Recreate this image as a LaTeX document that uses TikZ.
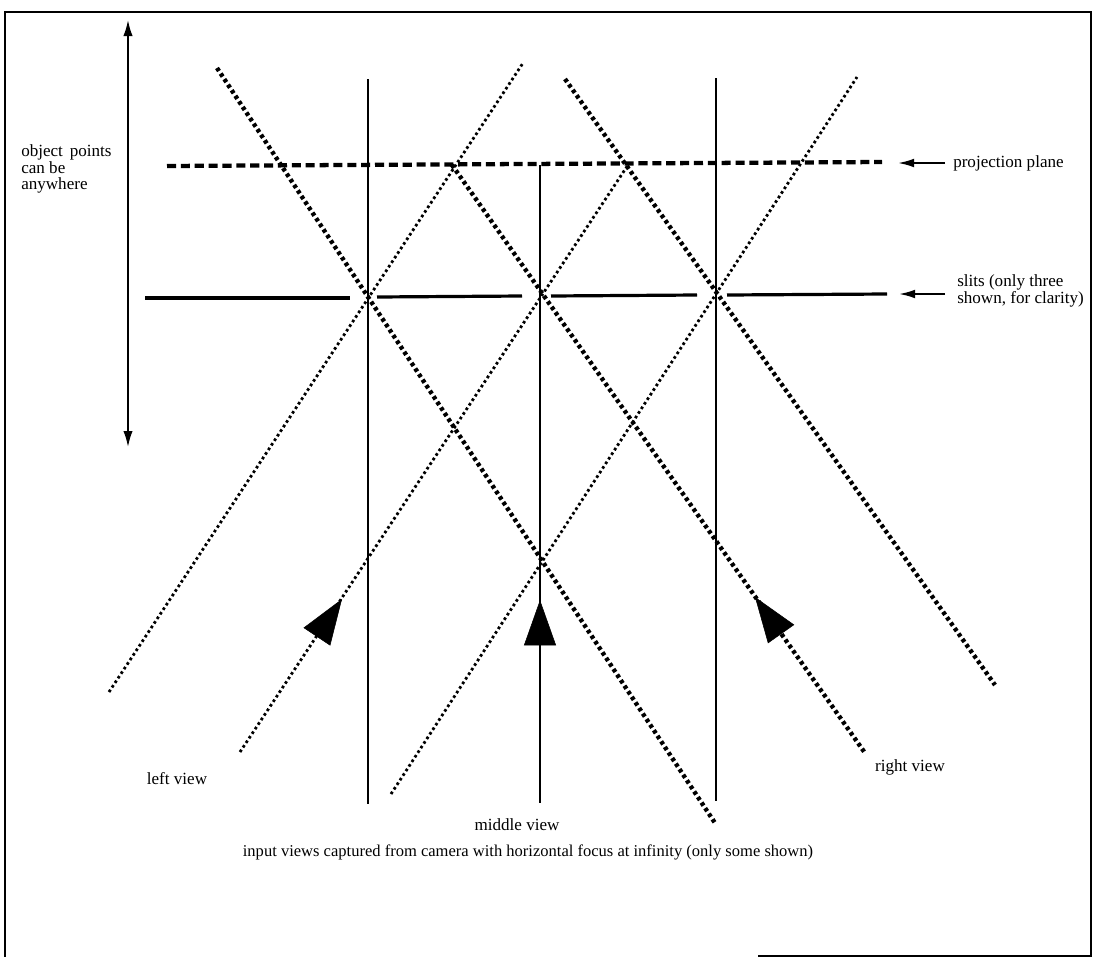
\documentclass[tikz,border=0pt]{standalone}
\usepackage{fontspec}
\setmainfont{Liberation Serif}
\usetikzlibrary{arrows.meta,calc}
\begin{document}
\begin{tikzpicture}[x=0.75pt,y=-0.75pt,
  frame/.style={line width=1.2pt},
  vline/.style={line width=1.6pt},
  midline/.style={line width=2.1pt},
  thickdot/.style={line width=3.3pt, dash pattern=on 2.7pt off 2.3pt},
  thindot/.style={line width=2.1pt, dash pattern=on 2pt off 2.1pt},
  ppdash/.style={line width=3.2pt, dash pattern=on 6.8pt off 3.6pt},
  slit/.style={line width=2.4pt},
  bigtip/.style={line width=0.4pt, -{Triangle[length=34pt,width=24pt]}},
  labarrow/.style={line width=1.4pt, -{Latex[length=12pt,width=6.5pt]}},
  dblarrow/.style={line width=1.3pt, {Latex[length=12pt,width=7pt]}-{Latex[length=12pt,width=7pt]}},
  lab/.style={font=\fontsize{12.8}{12.6}\selectfont, inner sep=0pt, align=left},
  longlab/.style={font=\fontsize{12.4}{12.4}\selectfont, inner sep=0pt}
]
\useasboundingbox (0,0) rectangle (1093,957);
% frame
\draw[frame] (5,957) -- (5,12) -- (1091,12) -- (1091,956) -- (758,956);

% coordinates
\coordinate (arrTop) at (128,20);
\coordinate (arrBot) at (128,447);
\coordinate (ppL) at (167,166);
\coordinate (ppR) at (882,162);
\coordinate (s1a) at (145,298); \coordinate (s1b) at (350,298);
\coordinate (s2a) at (377,297); \coordinate (s2b) at (522,296);
\coordinate (s3a) at (551,296); \coordinate (s3b) at (697,295);
\coordinate (s4a) at (727,295); \coordinate (s4b) at (887,294);
\coordinate (v1t) at (368,79);  \coordinate (v1b) at (368,804);
\coordinate (v2t) at (540,165); \coordinate (v2b) at (540,803);
\coordinate (v3t) at (716,78);  \coordinate (v3b) at (716,801);
\coordinate (d1t) at (217,68);  \coordinate (d1b) at (715,823);
\coordinate (d2t) at (452,165); \coordinate (d2b) at (865,753);
\coordinate (d3t) at (565,79);  \coordinate (d3b) at (995,685);
\coordinate (t1b) at (109,692); \coordinate (t1t) at (523,63);
\coordinate (t2b) at (240,752); \coordinate (t2t) at (628,165);
\coordinate (t3b) at (391,794); \coordinate (t3t) at (857,77);
\coordinate (tipL) at (342,599);
\coordinate (tipM) at (540,600);
\coordinate (tipR) at (755,597);
\coordinate (ppTip) at (898,163);
\coordinate (slTip) at (899,294);
\coordinate (slStart) at (945,294);

% double arrow
\draw[dblarrow] (arrBot) -- (arrTop);

% projection plane
\draw[ppdash] (ppL) -- (ppR);

% slits
\draw[slit] (s1a) -- (s1b);
\draw[slit] (s2a) -- (s2b);
\draw[slit] (s3a) -- (s3b);
\draw[slit] (s4a) -- (s4b);

% vertical lines
\draw[vline] (v1t) -- (v1b);
\draw[midline] (v2t) -- (v2b);
\draw[vline] (v3t) -- (v3b);

% thick dotted lines
\draw[thickdot] (d1t) -- (d1b);
\draw[thickdot] (d2t) -- (d2b);
\draw[thickdot] (d3t) -- (d3b);

% thin dotted lines
\draw[thindot] (t1b) -- (t1t);
\draw[thindot] (t2b) -- (t2t);
\draw[thindot] (t3b) -- (t3t);

% view arrowheads
\draw[bigtip] ($(tipL)!20pt!(t2b)$) -- (tipL);
\draw[bigtip] ($(tipM)!20pt!(v2b)$) -- (tipM);
\draw[bigtip] ($(tipR)!20pt!(d2b)$) -- (tipR);

% labels
\node[lab, anchor=west] (objtext) at (21,169) {object\hspace{0.4em}points\\can be\\anywhere};
\node[lab, anchor=west] (pplab) at (953,163) {projection plane};
\node[lab, anchor=west] (slitlab) at (957,291) {slits (only three\\shown, for clarity)};
\node[lab] (leftlab) at (177,779) {left view};
\node[lab] (midlab) at (517,825) {middle view};
\node[lab] (rightlab) at (910,767) {right view};
\node[longlab] (inputlab) at (528,852) {input views captured from camera with horizontal focus at infinity (only some shown)};

\draw[labarrow] ([xshift=-6pt]pplab.west) -- (ppTip);
\draw[labarrow] (slStart) -- (slTip);
\end{tikzpicture}
\end{document}
